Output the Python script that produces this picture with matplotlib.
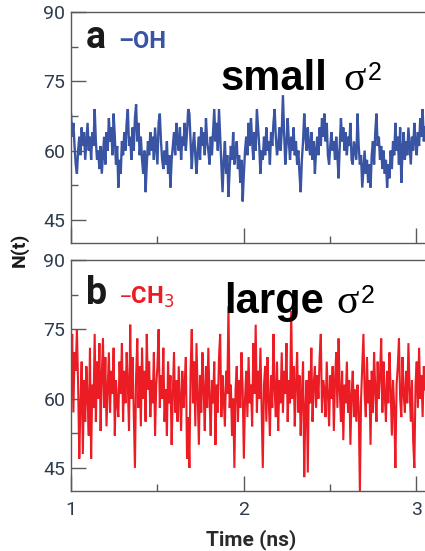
import numpy as np
import matplotlib.pyplot as plt
from matplotlib.ticker import MultipleLocator

# N(t) traces, 1 ns to ~3.05 ns
n_oh = [
    68, 63, 66, 61, 57, 55, 60, 63, 59, 65, 61, 64, 58, 62, 66, 60, 63, 58, 64, 61,
    69, 62, 58, 60, 56, 61, 55, 59, 63, 57, 64, 60, 67, 62, 65, 59, 68, 63, 57, 61,
    52, 58, 55, 62, 59, 64, 60, 66, 69, 61, 63, 58, 65, 60, 67, 70, 62, 66, 59, 63,
    58, 55, 60, 51, 57, 62, 59, 64, 60, 63, 58, 65, 61, 57, 66, 68, 62, 58, 56, 60,
    57, 62, 55, 59, 52, 58, 61, 64, 59, 66, 62, 60, 65, 58, 63, 61, 66, 60, 64, 69,
    68, 62, 56, 61, 64, 59, 55, 60, 63, 58, 65, 61, 64, 59, 67, 62, 60, 57, 63, 59,
    64, 69, 62, 66, 60, 69, 63, 57, 51, 58, 62, 55, 59, 50, 56, 61, 58, 64, 57, 60,
    62, 56, 59, 53, 58, 49, 55, 60, 63, 59, 66, 61, 67, 62, 58, 64, 60, 69, 65, 61,
    55, 60, 58, 63, 59, 65, 60, 62, 57, 64, 61, 66, 69, 63, 59, 61, 65, 60, 64, 72,
    64, 57, 61, 67, 62, 58, 63, 60, 65, 59, 62, 57, 60, 55, 51, 58, 62, 68, 63, 60,
    65, 61, 59, 64, 58, 62, 55, 60, 63, 59, 65, 61, 67, 63, 68, 62, 66, 59, 57, 61,
    64, 60, 62, 58, 63, 59, 54, 61, 67, 62, 65, 60, 64, 59, 63, 61, 66, 58, 57, 62,
    60, 58, 68, 61, 57, 59, 52, 56, 60, 55, 58, 53, 57, 52, 59, 62, 57, 64, 68, 61,
    63, 58, 61, 56, 60, 55, 58, 52, 57, 54, 60, 56, 62, 59, 66, 60, 63, 57, 65, 53,
    60, 64, 58, 62, 59, 65, 61, 57, 63, 60, 66, 62, 59, 64, 61, 67, 63, 69, 62, 65,
]

n_ch3 = [
    62, 74, 57, 70, 66, 75, 63, 47, 59, 68, 48, 64, 55, 67, 60, 52, 71, 47, 63, 58,
    74, 55, 68, 60, 72, 53, 65, 73, 58, 69, 54, 62, 70, 57, 66, 61, 71, 52, 64, 59,
    56, 68, 61, 72, 55, 66, 59, 70, 63, 53, 76, 60, 69, 57, 45, 65, 73, 58, 67, 54,
    71, 60, 66, 55, 74, 62, 68, 56, 64, 59, 70, 52, 63, 67, 75, 58, 65, 60, 71, 55,
    62, 52, 68, 59, 65, 50, 61, 70, 57, 64, 55, 67, 60, 53, 66, 58, 63, 69, 47, 56,
    45, 66, 75, 59, 68, 54, 72, 61, 50, 65, 57, 70, 62, 53, 67, 58, 71, 60, 52, 64,
    59, 68, 50, 63, 57, 69, 74, 56, 65, 60, 54, 66, 61, 80, 58, 63, 52, 60, 45, 62,
    67, 55, 64, 58, 70, 62, 47, 60, 66, 56, 69, 59, 63, 54, 72, 61, 76, 57, 66, 60,
    71, 58, 45, 63, 67, 55, 69, 60, 52, 65, 58, 74, 62, 56, 68, 53, 64, 59, 70, 57,
    66, 61, 72, 55, 64, 59, 79, 60, 67, 54, 63, 70, 57, 65, 52, 61, 68, 43, 58, 64,
    44, 66, 59, 71, 55, 63, 67, 58, 65, 60, 69, 74, 57, 64, 62, 56, 68, 61, 54, 65,
    60, 67, 53, 64, 70, 58, 73, 62, 55, 66, 51, 63, 59, 68, 57, 64, 50, 61, 66, 56,
    62, 55, 63, 58, 40, 60, 67, 74, 61, 56, 69, 59, 64, 50, 66, 57, 70, 62, 55, 68,
    60, 65, 73, 57, 68, 61, 55, 66, 59, 70, 62, 52, 64, 58, 45, 63, 67, 73, 60, 56,
    69, 61, 57, 66, 59, 72, 62, 55, 64, 51, 45, 63, 68, 58, 71, 60, 65, 56, 67, 62,
]

t_start, t_end = 1.0, 3.05
y_ticks = [45, 60, 75, 90]
x_ticks = [1, 2, 3]

narrow = ['Roboto', 'DejaVu Sans']
tick_col = '#2e3b4c'
spine_col = '#5a5a5a'
blue = '#3a54a4'
red = '#ec1c24'

W, H = 425, 551


def fx(px):
    return px / W


def fy(py):
    return 1 - py / H


fig = plt.figure(figsize=(4.25, 5.51), dpi=100)
ax_a = fig.add_axes([fx(71), fy(243), 1 - fx(71), fy(12) - fy(243)])
ax_b = fig.add_axes([fx(71), fy(491), 1 - fx(71), fy(260) - fy(491)])

for ax, vals, col, lw in [(ax_a, n_oh, blue, 1.7), (ax_b, n_ch3, red, 1.5)]:
    t = np.linspace(t_start, t_end, len(vals))
    ax.plot(t, vals, color=col, lw=lw, solid_joinstyle='miter')
    ax.set_xlim(t_start, t_end)
    ax.set_ylim(40, 90)
    ax.set_yticks(y_ticks)
    ax.set_xticks(x_ticks)
    ax.yaxis.set_minor_locator(MultipleLocator(7.5))
    ax.xaxis.set_minor_locator(MultipleLocator(0.5))
    ax.spines['right'].set_visible(False)
    for s in ['left', 'top', 'bottom']:
        ax.spines[s].set_color(spine_col)
        ax.spines[s].set_linewidth(1.0)
    ax.tick_params(which='major', direction='in', length=11, width=1,
                   color=spine_col, labelcolor=tick_col, labelsize=14, pad=4)
    ax.tick_params(which='minor', direction='in', length=5, width=1,
                   color=spine_col)
    ax.tick_params(axis='x', pad=7)
    for lab in ax.get_xticklabels() + ax.get_yticklabels():
        lab.set_family(narrow)

ax_a.tick_params(axis='x', labelbottom=False)

# panel labels
fig.text(fx(86), fy(48), 'a', fontsize=27, fontweight='bold', family=narrow,
         color='#1a1a1a', va='baseline')
fig.text(fx(118), fy(48), '–OH', fontsize=17, fontweight='bold', family=narrow,
         color=blue, va='baseline')
fig.text(fx(86), fy(304), 'b', fontsize=27, fontweight='bold', family=narrow,
         color='#1a1a1a', va='baseline')
fig.text(fx(119), fy(304), '–CH$_3$', fontsize=17, fontweight='bold',
         family=narrow, color=red, va='baseline')

# variance annotations
fig.text(fx(221), fy(90), 'small', fontsize=30, fontweight='bold',
         family='Liberation Sans', va='baseline')
fig.text(fx(343), fy(90), 'σ', fontsize=30, family='Liberation Serif',
         va='baseline')
fig.text(fx(368), fy(80), '2', fontsize=18, family='Liberation Sans',
         va='baseline')
fig.text(fx(224), fy(313), 'large', fontsize=30, fontweight='bold',
         family='Liberation Sans', va='baseline')
fig.text(fx(336), fy(313), 'σ', fontsize=30, family='Liberation Serif',
         va='baseline')
fig.text(fx(361), fy(303), '2', fontsize=18, family='Liberation Sans',
         va='baseline')

# axis titles
fig.text(fx(19), fy(250), 'N(t)', fontsize=14, fontweight='bold',
         family=narrow, color='#1a1a1a', rotation=90, ha='center', va='center')
fig.text(fx(251), fy(540), 'Time (ns)', fontsize=15, fontweight='bold',
         family=narrow, color='#2a2a2a', ha='center', va='center')

fig.savefig('out.png', dpi=100)
